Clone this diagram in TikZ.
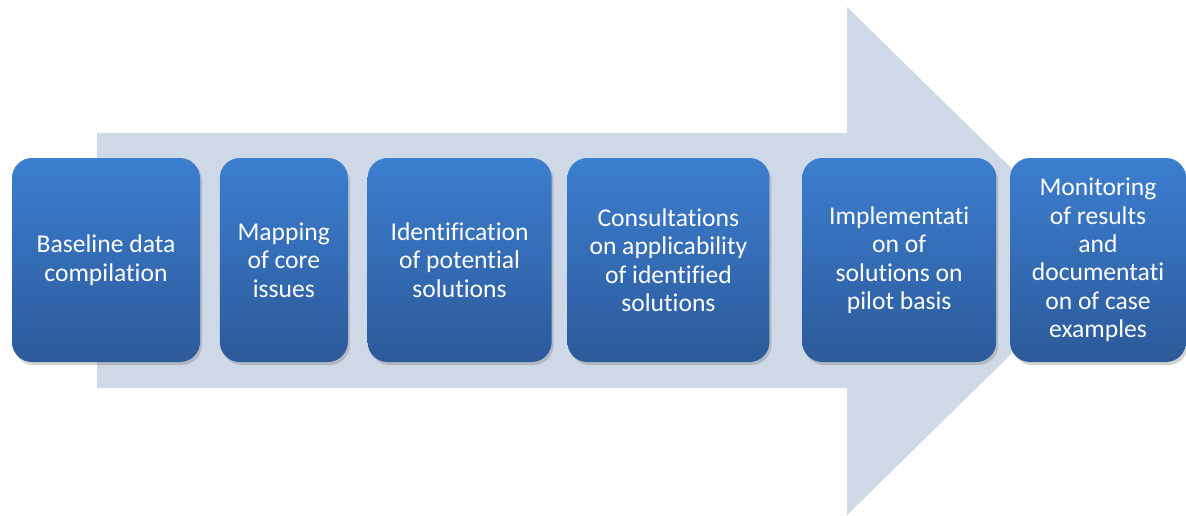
\documentclass[tikz,border=0pt]{standalone}
\usepackage{fontspec}
\setmainfont[RawFeature={-liga;-clig;-calt;-dlig}]{Carlito}
\usepackage{xcolor}
\usetikzlibrary{positioning,shadows}

\definecolor{arrowgray}{RGB}{207,216,230}
\definecolor{boxtop}{RGB}{60,126,207}
\definecolor{boxbot}{RGB}{44,90,154}

\begin{document}
\begin{tikzpicture}[
    x=0.5pt, y=-0.5pt,
    stepbox/.style={rectangle, rounded corners=10pt, top color=boxtop, bottom color=boxbot,
        minimum height=102pt, inner sep=2pt, align=center, text=white,
        font=\fontsize{12.8}{14.2}\selectfont,
        drop shadow={shadow xshift=1pt, shadow yshift=-1.5pt, opacity=0.35}}
]
\useasboundingbox (0,0) rectangle (1186,515);

% Big background arrow
\fill[arrowgray] (97,133) -- (847,133) -- (847,7) -- (1106,261)
    -- (847,515) -- (847,388) -- (97,388) -- cycle;

% Steps
\node[stepbox, minimum width=94pt] (b1) at (106,260) {Baseline data\\compilation};
\node[stepbox, minimum width=64pt, right=9.5pt of b1] (b2) {Mapping\\of core\\issues};
\node[stepbox, minimum width=92pt, right=9.5pt of b2] (b3) {Identification\\of potential\\solutions};
\node[stepbox, minimum width=101pt, right=7.5pt of b3] (b4) {Consultations\\on applicability\\of identified\\solutions};
\node[stepbox, minimum width=97pt, right=16pt of b4] (b5) {Implementat\kern0pt i\\on of\\solutions on\\pilot basis};
\node[stepbox, minimum width=88pt, right=6.5pt of b5] (b6) {Monitoring\\of results\\and\\documentat\kern0pt i\\on of case\\examples};
\end{tikzpicture}
\end{document}
